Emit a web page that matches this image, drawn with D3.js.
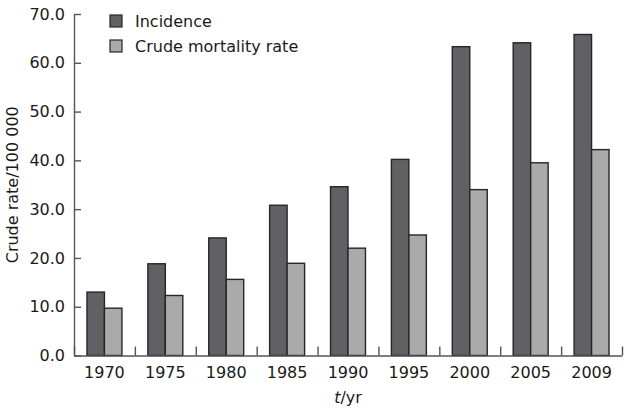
<!DOCTYPE html>
<html>
<head>
<meta charset="utf-8">
<script src="https://cdn.jsdelivr.net/npm/d3@7"></script>
<style>
  body { margin: 0; background: #fff; }
  svg { display: block; font-family: "DejaVu Sans", Verdana, sans-serif; }
</style>
</head>
<body>
<svg id="chart" width="630" height="412"></svg>
<script>
const years = ["1970", "1975", "1980", "1985", "1990", "1995", "2000", "2005", "2009"];
const incidence = [13.0, 18.8, 24.1, 30.8, 34.6, 40.2, 63.3, 64.1, 65.8];
const mortality = [9.7, 12.3, 15.6, 18.9, 22.0, 24.7, 34.0, 39.5, 42.2];
const seriesNames = ["Incidence", "Crude mortality rate"];
const yTicks = [0, 10, 20, 30, 40, 50, 60, 70];

const colors = ["#616065", "#aaaaab"];
const svg = d3.select("#chart");
const mLeft = 74, mRight = 622, mTop = 14, mBottom = 355.5;

const x0 = d3.scaleBand().domain(years).range([mLeft, mRight])
  .paddingInner(0.426).paddingOuter(0.213);
const x1 = d3.scaleBand().domain(seriesNames).range([0, x0.bandwidth()]);
const y = d3.scaleLinear().domain([0, 70]).range([mBottom, mTop]);

const data = years.map((yr, i) => ({ year: yr, values: [incidence[i], mortality[i]] }));

// bars
const groups = svg.append("g").selectAll("g").data(data).join("g")
  .attr("transform", d => `translate(${x0(d.year)},0)`);
groups.selectAll("rect").data(d => d.values.map((v, k) => ({ v, k })))
  .join("rect")
  .attr("x", d => x1(seriesNames[d.k]))
  .attr("width", x1.bandwidth())
  .attr("y", d => y(d.v))
  .attr("height", d => y(0) - y(d.v))
  .attr("fill", d => colors[d.k])
  .attr("stroke", "#262626")
  .attr("stroke-width", 1.4);

// y axis
const yAxis = svg.append("g").attr("transform", `translate(${mLeft},0)`)
  .call(d3.axisLeft(y).tickValues(yTicks).tickFormat(d3.format(".1f"))
    .tickSizeInner(-7).tickSizeOuter(0).tickPadding(9));
yAxis.selectAll("text").attr("font-size", 16).attr("fill", "#1a1a1a")
  .attr("font-family", "DejaVu Sans, Verdana, sans-serif");
yAxis.selectAll("line, path").attr("stroke", "#555").attr("stroke-width", 1.4);

// x axis boundary ticks
const xb = d3.scaleLinear().domain([0, years.length]).range([mLeft, mRight]);
const xTickAxis = svg.append("g").attr("transform", `translate(0,${mBottom})`)
  .call(d3.axisBottom(xb).tickValues(d3.range(years.length + 1))
    .tickFormat("").tickSizeInner(-9).tickSizeOuter(0));
xTickAxis.selectAll("line, path").attr("stroke", "#555").attr("stroke-width", 1.4);

// x labels
const xAxis = svg.append("g").attr("transform", `translate(0,${mBottom})`)
  .call(d3.axisBottom(x0).tickSize(0).tickPadding(11));
xAxis.select(".domain").remove();
xAxis.selectAll("text").attr("font-size", 16).attr("fill", "#1a1a1a")
  .attr("font-family", "DejaVu Sans, Verdana, sans-serif");

// axis titles
svg.append("text")
  .attr("transform", `translate(17.5,${(mTop + mBottom) / 2}) rotate(-90)`)
  .attr("text-anchor", "middle").attr("font-size", 16).attr("fill", "#1a1a1a")
  .text("Crude rate/100 000");

const xt = svg.append("text")
  .attr("x", (mLeft + mRight) / 2).attr("y", 403)
  .attr("text-anchor", "middle").attr("font-size", 16).attr("fill", "#1a1a1a");
xt.append("tspan").attr("font-style", "italic").text("t");
xt.append("tspan").text("/yr");

// legend
const legend = svg.append("g").selectAll("g").data(seriesNames).join("g")
  .attr("transform", (d, i) => `translate(110,${15 + i * 25})`);
legend.append("rect").attr("width", 12).attr("height", 12)
  .attr("fill", (d, i) => colors[i]).attr("stroke", "#262626").attr("stroke-width", 1.2);
legend.append("text").attr("x", 25).attr("y", 12)
  .attr("font-size", 16).attr("fill", "#1a1a1a").text(d => d);
</script>
</body>
</html>
